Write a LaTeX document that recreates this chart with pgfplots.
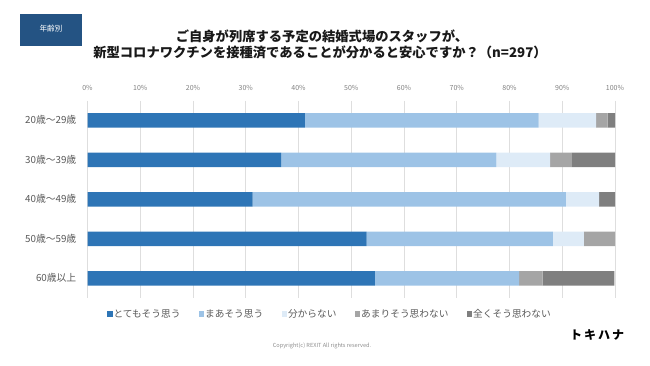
\documentclass[border=0pt]{standalone}
\usepackage{fontspec}
\setmainfont{Noto Sans CJK JP}
\usepackage{pgfplots}
\pgfplotsset{compat=1.18}
\definecolor{c1}{HTML}{2E75B6}
\definecolor{c2}{HTML}{9DC3E6}
\definecolor{c3}{HTML}{DEEBF7}
\definecolor{c4}{HTML}{A5A5A5}
\definecolor{c5}{HTML}{7F7F7F}
\definecolor{navy}{HTML}{245383}
\definecolor{lbl}{HTML}{595959}
\begin{document}
\begin{tikzpicture}
\path[use as bounding box] (0,0) rectangle (650pt,366pt);
% header box
\fill[navy] (20pt,{366pt-14pt}) rectangle (82pt,{366pt-46pt});
\node[text=white,font=\fontsize{7.6}{8}\selectfont] at (51pt,{366pt-28.5pt}) {年齢別};
% title
\node[font=\bfseries\fontsize{13.3}{15}\selectfont,text=black!90] at (322pt,{366pt-36pt}) {ご自身が列席する予定の結婚式場のスタッフが、};
\node[font=\bfseries\fontsize{13.3}{15}\selectfont,text=black!90] at (320pt,{366pt-52pt}) {新型コロナワクチンを接種済であることが分かると安心ですか？（n=297）};
\begin{axis}[
  at={(87.5pt,68pt)}, anchor=south west,
  scale only axis, width=527.5pt, height=197.5pt,
  xbar stacked, bar width=14.5pt,
  xmin=0, xmax=100, ymin=-0.5, ymax=4.5, y dir=reverse,
  axis x line*=top, axis y line*=left, axis line style={draw=none},
  xtick={0,10,...,100},
  xticklabels={0\%,10\%,20\%,30\%,40\%,50\%,60\%,70\%,80\%,90\%,100\%},
  xticklabel pos=upper,
  /pgf/number format/assume math mode=true,
  major tick length=0pt,
  xmajorgrids, grid style={draw=black!13, line width=0.6pt},
  xticklabel style={font=\fontsize{7}{7}\selectfont, text=black!50, anchor=base, inner sep=0pt, yshift=10pt},
  ytick={0,1,2,3,4},
  yticklabels={20歳～29歳,30歳～39歳,40歳～49歳,50歳～59歳,60歳以上},
  yticklabel style={font=\fontsize{9.8}{10}\selectfont, text=lbl, anchor=east, inner sep=0pt, xshift=-11pt},
  legend columns=5,
  legend style={at={(0.037,-0.081)}, anchor=west, draw=none, fill=none,
    font=\fontsize{9.7}{10}\selectfont, text=lbl, inner sep=0pt,
    nodes={inner sep=0.9pt},
    /tikz/every even column/.append style={column sep=17.5pt}},
  legend image code/.code={\fill[#1] (0pt,-2.6pt) rectangle (5.4pt,2.6pt);},
]
\addplot[fill=c1, draw=none] coordinates {(41.2,0) (36.7,1) (31.3,2) (52.9,3) (54.5,4)};
\addplot[fill=c2, draw=none] coordinates {(44.3,0) (40.8,1) (59.4,2) (35.3,3) (27.3,4)};
\addplot[fill=c3, draw=none] coordinates {(10.9,0) (10.2,1) (6.3,2) (5.9,3) (0,4)};
\addplot[fill=c4, draw=none] coordinates {(2.2,0) (4.1,1) (0,2) (5.9,3) (4.5,4)};
\addplot[fill=c5, draw=none] coordinates {(1.4,0) (8.2,1) (3.1,2) (0,3) (13.6,4)};
\legend{とてもそう思う,まあそう思う,分からない,あまりそう思わない,全くそう思わない}
\end{axis}
\node[font=\fontsize{5.6}{6}\selectfont, text=black!45] at (322pt,{366pt-346pt}) {Copyright(c) REXIT All rights reserved.};
\node[font=\bfseries\fontsize{12}{13}\selectfont, text=black] at (597pt,{366pt-335pt}) {ト\,キ\,ハ\,ナ};
\end{tikzpicture}
\end{document}
